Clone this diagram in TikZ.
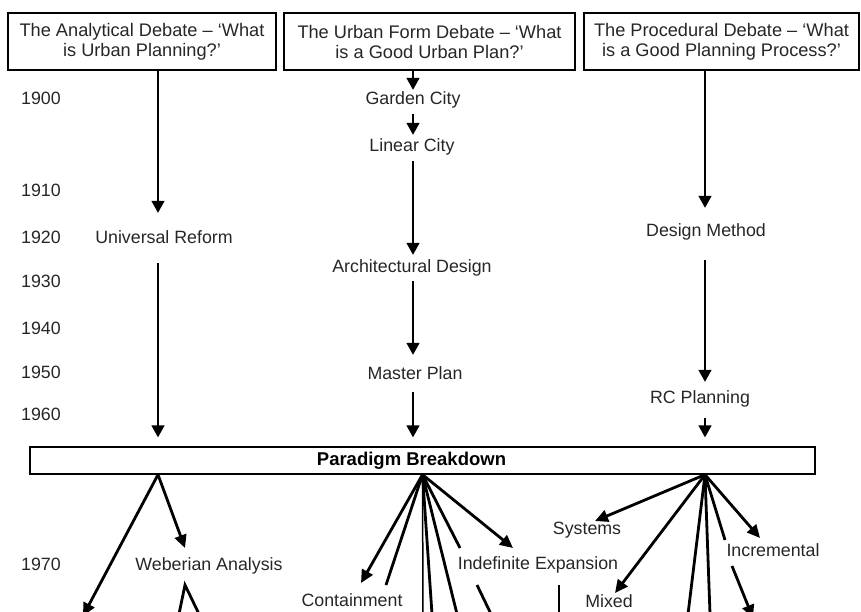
\documentclass[tikz,border=0pt]{standalone}
\usepackage{fontspec}
\setmainfont{Liberation Sans}
\usetikzlibrary{arrows.meta,calc}
\begin{document}
\begin{tikzpicture}[x=1pt,y=-1pt,
 lbl/.style={inner sep=0pt, text height=12.5pt, text depth=3.5pt, font=\fontsize{17.8}{20}\selectfont, text=black!85},
 hdr/.style={draw, line width=1.3pt, inner sep=0pt, minimum height=57pt, align=center, font=\fontsize{18.2}{20}\selectfont, text=black!85},
 thinarr/.style={line width=1.5pt, -{Triangle[width=13pt,length=12pt]}},
 thickarr/.style={line width=2.8pt, -{Triangle[width=12pt,length=13pt]}},
 thickln/.style={line width=2.8pt},
 thinln/.style={line width=1.5pt}]
\useasboundingbox (0,0) rectangle (861,612);
\clip (0,0) rectangle (861,612);

% headers
\node[hdr, minimum width=268pt] (h1) at (142,41.5) {The Analytical Debate -- `What\\is Urban Planning?'};
\node[hdr, minimum width=291pt] (h2) at (429.5,41.5) {The Urban Form Debate -- `What\\is a Good Urban Plan?'};
\node[hdr, minimum width=275pt] (h3) at (721.5,41.5) {The Procedural Debate -- `What\\is a Good Planning Process?'};

\coordinate (c1) at (158,0);
\coordinate (c2) at (413,0);
\coordinate (c3) at (705,0);

% years
\node[lbl] (y1900) at (41,100) {1900};
\node[lbl] (y1910) at (41,192) {1910};
\node[lbl] (y1920) at (41,239) {1920};
\node[lbl] (y1930) at (41,283) {1930};
\node[lbl] (y1940) at (41,330) {1940};
\node[lbl] (y1950) at (41,374) {1950};
\node[lbl] (y1960) at (41,416) {1960};
\node[lbl] (y1970) at (41,566) {1970};

% column nodes
\node[lbl] (univ) at (164,239) {Universal Reform};
\node[lbl] (garden) at (413,100) {Garden City};
\node[lbl] (linear) at (412,147) {Linear City};
\node[lbl] (arch) at (412,268) {Architectural Design};
\node[lbl] (master) at (415,375) {Master Plan};
\node[lbl] (design) at (706,232) {Design Method};
\node[lbl] (rc) at (700,399) {RC Planning};

\node[draw, line width=1.3pt, minimum width=785pt, minimum height=27pt, inner sep=0pt,
      font=\fontsize{18.5}{20}\selectfont\bfseries] (para) at (422.5,460.5) {\hspace*{-22pt}Paradigm Breakdown};

% column arrows
\draw[thinarr, shorten >=18pt] (h1.south -| c1) -- (univ.north -| c1);
\draw[thinarr, shorten <=16pt, shorten >=9pt] (univ.south -| c1) -- (para.north -| c1);

\draw[thinarr, shorten >=2pt] (h2.south -| c2) -- (garden.north -| c2);
\draw[thinarr, shorten <=6pt, shorten >=4pt] (garden.south -| c2) -- (linear.north -| c2);
\draw[thinarr, shorten <=6pt, shorten >=5pt] (linear.south -| c2) -- (arch.north -| c2);
\draw[thinarr, shorten <=5pt, shorten >=12pt] (arch.south -| c2) -- (master.north -| c2);
\draw[thinarr, shorten <=9pt, shorten >=9pt] (master.south -| c2) -- (para.north -| c2);

\draw[thinarr, shorten >=16pt] (h3.south -| c3) -- (design.north -| c3);
\draw[thinarr, shorten <=20pt, shorten >=9pt] (design.south -| c3) -- (rc.north -| c3);
\draw[thinarr, shorten <=11pt, shorten >=9pt] (rc.south -| c3) -- (para.north -| c3);

% lower labels
\node[lbl] (weber) at (209,566) {Weberian Analysis};
\node[lbl] (contain) at (352,602) {Containment};
\node[lbl] (indef) at (538,565) {Indefinite Expansion};
\node[lbl] (systems) at (587,530) {Systems};
\node[lbl] (incr) at (773,552) {Incremental};
\node[lbl] (mixed) at (609,603) {Mixed};

% fan origins
\coordinate (f1) at (para.south -| c1);
\coordinate (f2) at (para.south);
\coordinate (f3) at (para.south -| c3);

% fan 1
\coordinate (t1a) at (83,616);
\coordinate (t1b) at (185,548);
\coordinate (w1) at (185,585);
\coordinate (w1l) at (179,614);
\coordinate (w1r) at (199,614);
\draw[thickarr] (f1) -- (t1a);
\draw[thickarr] (f1) -- (t1b);
\draw[thickln, line join=miter] (w1l) -- (w1) -- (w1r);

% fan 2
\coordinate (t2a) at (361,583);
\coordinate (t2b) at (386,585);
\coordinate (t2c) at (423,614);
\coordinate (t2d) at (432,614);
\coordinate (t2e) at (457,614);
\coordinate (t2f) at (460,548);
\coordinate (t2g) at (513,548);
\coordinate (s2a) at (477,585);
\coordinate (s2b) at (491,614);
\coordinate (s2c) at (559,585);
\coordinate (s2d) at (559,614);
\draw[thickarr] (f2) -- (t2a);
\draw[thickln] (f2) -- (t2b);
\draw[thinln] (f2) -- (t2c);
\draw[thickln] (f2) -- (t2d);
\draw[thickln] (f2) -- (t2e);
\draw[thickln] (f2) -- (t2f);
\draw[thickarr] (f2) -- (t2g);
\draw[thickln] (s2a) -- (s2b);
\draw[thinln] (s2c) -- (s2d);

% fan 3
\coordinate (t3a) at (595,521);
\coordinate (t3b) at (615,593);
\coordinate (t3c) at (688,614);
\coordinate (t3d) at (710,614);
\coordinate (t3e) at (725,540);
\coordinate (t3f) at (760,538);
\coordinate (s3a) at (732,566);
\coordinate (s3b) at (753,618);
\draw[thickarr] (f3) -- (t3a);
\draw[thickarr] (f3) -- (t3b);
\draw[thickln] (f3) -- (t3c);
\draw[thickln] (f3) -- (t3d);
\draw[thickln] (f3) -- (t3e);
\draw[thickarr] (f3) -- (t3f);
\draw[thickarr] (s3a) -- (s3b);
\end{tikzpicture}
\end{document}
